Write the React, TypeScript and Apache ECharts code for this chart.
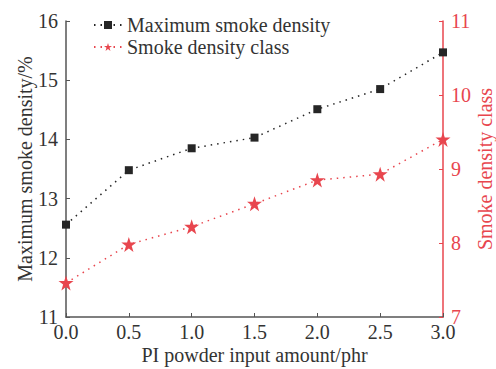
import React, { useEffect, useRef } from "react";
import * as echarts from "echarts";

const xValues = [0, 0.5, 1.0, 1.5, 2.0, 2.5, 3.0];
const maxDensity = [12.56, 13.48, 13.85, 14.03, 14.51, 14.85, 15.47];
const densityClass = [7.46, 7.98, 8.22, 8.53, 8.85, 8.93, 9.4];
const seriesNames = ["Maximum smoke density", "Smoke density class"];

const STAR =
  "path://M50,0 L61.8,35.4 L100,35.4 L69.1,57.3 L80.9,95.1 L50,72.4 L19.1,95.1 L30.9,57.3 L0,35.4 L38.2,35.4 Z";

const BLACK = "#262626";
const RED = "#e8464e";
const FONT = "Liberation Serif";
const FS = 20;

export default function App() {
  const ref = useRef<HTMLDivElement>(null);
  useEffect(() => {
    const chart = echarts.init(ref.current!, null, { renderer: "svg" });
    chart.setOption({
      animation: false,
      textStyle: { fontFamily: FONT },
      grid: {
        left: 66,
        right: 53,
        top: 21,
        bottom: 52,
        containLabel: false,
        outerBoundsMode: "none",
      },
      legend: {
        left: 88,
        top: 10,
        orient: "vertical",
        itemGap: 2,
        itemWidth: 28,
        itemHeight: 10,
        textStyle: { fontFamily: FONT, fontSize: FS, color: "#333" },
        data: seriesNames,
      },
      xAxis: {
        type: "value",
        min: 0,
        max: 3,
        interval: 0.5,
        name: "PI powder input amount/phr",
        nameLocation: "middle",
        nameGap: 28,
        nameMoveOverlap: false,
        nameTextStyle: { fontFamily: FONT, fontSize: FS, color: "#333" },
        axisLine: { lineStyle: { color: "#555", width: 1.5 } },
        axisTick: { inside: true, length: 4, lineStyle: { color: "#555" } },
        axisLabel: {
          fontFamily: FONT,
          fontSize: FS,
          color: "#333",
          margin: 5,
          formatter: (v: number) => v.toFixed(1),
        },
        splitLine: { show: false },
      },
      yAxis: [
        {
          type: "value",
          min: 11,
          max: 16,
          interval: 1,
          name: "Maximum smoke density/%",
          nameLocation: "middle",
          nameGap: 31,
          nameMoveOverlap: false,
          nameTextStyle: { fontFamily: FONT, fontSize: FS, color: "#333" },
          axisLine: { show: true, lineStyle: { color: "#555", width: 1.5 } },
          axisTick: { show: true, inside: true, length: 4, lineStyle: { color: "#555" } },
          axisLabel: { fontFamily: FONT, fontSize: FS, color: "#333", margin: 8 },
          splitLine: { show: false },
        },
        {
          type: "value",
          min: 7,
          max: 11,
          interval: 1,
          position: "right",
          name: "Smoke density class",
          nameLocation: "middle",
          nameGap: 32,
          nameRotate: 90,
          nameMoveOverlap: false,
          nameTextStyle: { fontFamily: FONT, fontSize: FS, color: RED },
          axisLine: { show: true, lineStyle: { color: RED, width: 1.5 } },
          axisTick: { show: true, inside: true, length: 4, lineStyle: { color: RED } },
          axisLabel: { fontFamily: FONT, fontSize: FS, color: RED, margin: 8 },
          splitLine: { show: false },
        },
      ],
      series: [
        {
          name: seriesNames[0],
          type: "line",
          yAxisIndex: 0,
          data: xValues.map((x, i) => [x, maxDensity[i]]),
          symbol: "rect",
          symbolSize: 8,
          itemStyle: { color: BLACK },
          lineStyle: { color: BLACK, type: [1.5, 5], width: 1.5 },
        },
        {
          name: seriesNames[1],
          type: "line",
          yAxisIndex: 1,
          data: xValues.map((x, i) => [x, densityClass[i]]),
          symbol: STAR,
          symbolSize: 15,
          itemStyle: { color: RED },
          lineStyle: { color: RED, type: [1.5, 5], width: 1.5 },
        },
      ],
    });
    return () => chart.dispose();
  }, []);
  return (
    <div
      ref={ref}
      style={{ position: "absolute", left: 0, top: 0, width: 496, height: 369 }}
    />
  );
}
